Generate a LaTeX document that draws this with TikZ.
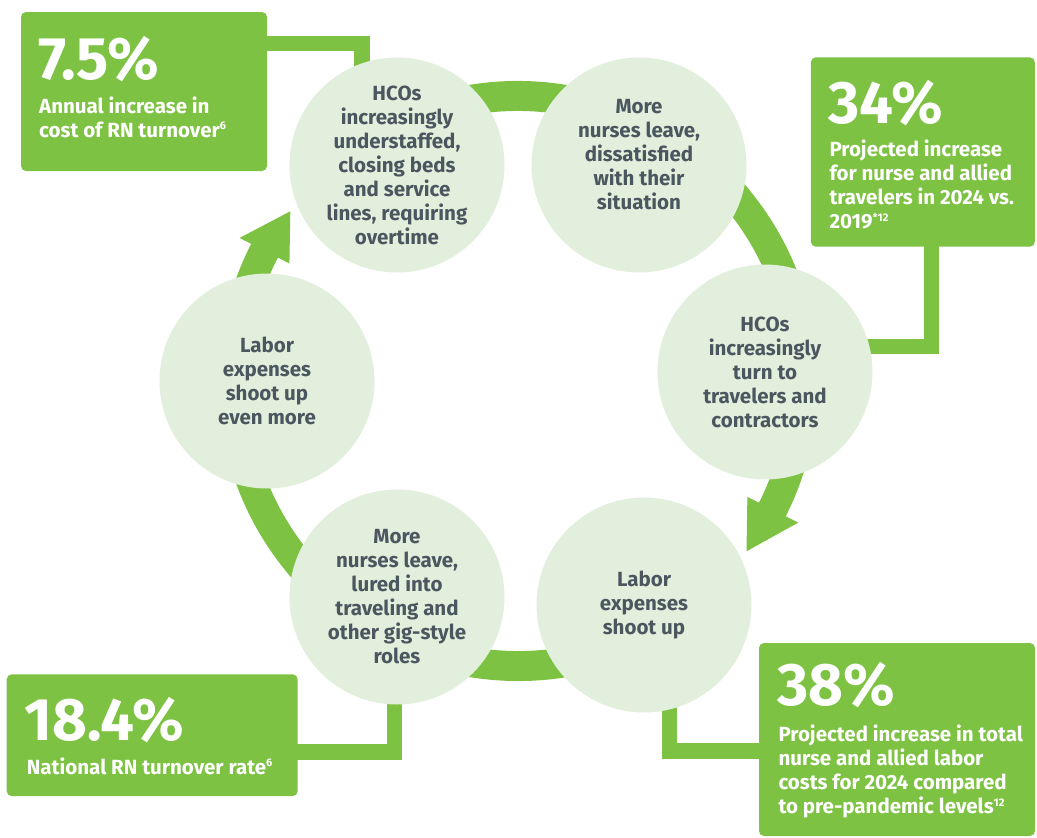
\documentclass[tikz,border=0pt]{standalone}
\usepackage{fontspec}
\setmainfont{Fira Sans}
\usetikzlibrary{backgrounds}
\definecolor{leaf}{HTML}{7DC242}
\definecolor{mint}{HTML}{E2EFDD}
\definecolor{slate}{HTML}{4B575F}
\newcommand{\lines}[1]{\begin{tabular}[t]{@{}l@{}}#1\end{tabular}}
\newcommand{\refmark}[1]{\raisebox{7.5pt}{\fontsize{11}{11}\selectfont #1}}
\begin{document}
\begin{tikzpicture}[x=1pt,y=-1pt,
  bubble/.style={circle, fill=mint, minimum size=215pt, inner sep=0pt},
  bubbletext/.style={align=center, text=slate, inner sep=0pt,
    font=\bfseries\fontsize{20.5}{24}\selectfont},
  statbox/.style={fill=leaf, rounded corners=5pt, inner sep=0pt},
  bignum/.style={text=white, inner sep=0pt, anchor=base west,
    font=\bfseries\fontsize{60}{60}\selectfont},
  stattext/.style={text=white, inner sep=0pt, anchor=base west,
    font=\bfseries\fontsize{20.5}{24}\selectfont},
  link/.style={draw=leaf, line width=15.5pt, line join=miter},
  band/.style={draw=leaf, line width=30pt},
  head/.style={fill=leaf}
]
\useasboundingbox (0,0) rectangle (1037,838);

% cycle bubbles
\node[bubble] (c1) at (397,165) {};
\node[bubble] (c2) at (639,165) {};
\node[bubble] (c3) at (765,372) {};
\node[bubble] (c4) at (644,605) {};
\node[bubble] (c5) at (397,597) {};
\node[bubble] (c6) at (267,381) {};

\node[bubbletext] (t1) at (c1) {HCOs\\increasingly\\understaffed,\\closing beds\\and service\\lines, requiring\\overtime};
\node[bubbletext] (t2) at ([yshift=10pt]c2.center) {More\\nurses leave,\\dissatisfied\\with their\\situation};
\node[bubbletext] (t3) at (c3) {HCOs\\increasingly\\turn to\\travelers and\\contractors};
\node[bubbletext] (t4) at (c4) {Labor\\expenses\\shoot up};
\node[bubbletext] (t5) at (c5) {More\\nurses leave,\\lured into\\traveling and\\other gig-style\\roles};
\node[bubbletext] (t6) at (c6) {Labor\\expenses\\shoot up\\even more};

% statistic boxes
\node[statbox, minimum width=246pt, minimum height=159pt] (b1) at (144,91.5) {};
\node[statbox, minimum width=224pt, minimum height=189.4pt] (b2) at (922.8,152) {};
\node[statbox, minimum width=276pt, minimum height=193pt] (b3) at (897,739.5) {};
\node[statbox, minimum width=291pt, minimum height=121.7pt] (b4) at (152.2,735.2) {};

\node[bignum] (n1) at (38,79.3) {7.5\%};
\node[stattext] (s1) at (39,113.3) {\lines{Annual increase in\\cost of RN turnover\refmark{6}}};
\node[bignum] (n2) at (828.3,123.3) {34\%};
\node[stattext] (s2) at (829.3,156.7) {\lines{Projected increase\\for nurse and allied\\travelers in 2024 vs.\\2019\refmark{*12}}};
\node[bignum] (n3) at (777.3,705) {38\%};
\node[stattext] (s3) at (778.3,741.7) {\lines{Projected increase in total\\nurse and allied labor\\costs for 2024 compared\\to pre-pandemic levels\refmark{12}}};
\node[bignum] (n4) at (24.7,740) {18.4\%};
\node[stattext] (s4) at (26.7,774.3) {National RN turnover rate\refmark{6}};

% elbow points of the box connectors
\coordinate (k1) at (362,43.7);
\coordinate (k2) at (931.5,346.5);
\coordinate (k3) at (669.5,751);
\coordinate (k4) at (394.7,752);
% centre of the cycle ring
\coordinate (o) at (518,381);

\begin{pgfonlayer}{background}
  % ring segments
  \draw[band] ([shift={(-120:285)}]o) arc[start angle=-120, end angle=27.5, radius=285];
  \draw[band] ([shift={(60:285)}]o) arc[start angle=60, end angle=207.8, radius=285];
  % arrowheads
  \fill[head] ([shift={(26.8:257)}]o) -- ([shift={(36.7:285)}]o) -- ([shift={(26.8:314)}]o) -- cycle;
  \fill[head] ([shift={(207.2:257)}]o) -- ([shift={(216.7:284)}]o) -- ([shift={(207.2:313)}]o) -- cycle;
  % connectors
  \draw[link] (b1 |- k1) -| (k1 |- c1.center);
  \draw[link] (k2 |- b2.center) |- (c3 |- k2);
  \draw[link] (k3 |- c4.center) |- (b3 |- k3);
  \draw[link] (b4 |- k4) -| (k4 |- c5.center);
\end{pgfonlayer}
\end{tikzpicture}
\end{document}
